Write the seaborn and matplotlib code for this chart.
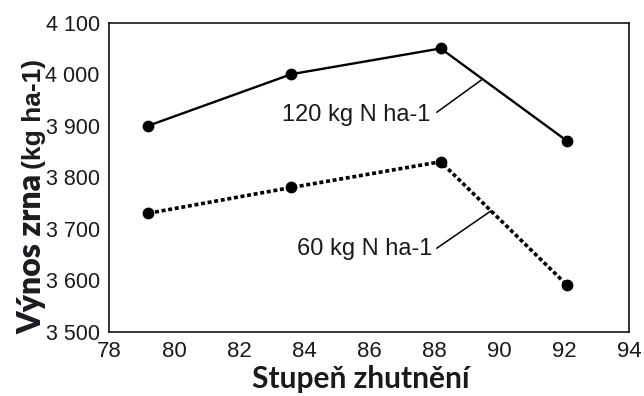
import matplotlib
matplotlib.use("Agg")
import matplotlib.pyplot as plt
from matplotlib.ticker import FuncFormatter, MultipleLocator
import seaborn as sns
import pandas as pd

# Degree of soil compaction and grain yield for two nitrogen rates
compaction = [79.2, 83.6, 88.2, 92.1]
yield_120 = [3900, 4000, 4050, 3870]
yield_60 = [3730, 3780, 3830, 3590]
label_120 = "120 kg N ha-1"
label_60 = "60 kg N ha-1"
x_ticks = [78, 80, 82, 84, 86, 88, 90, 92, 94]
y_ticks = [3500, 3600, 3700, 3800, 3900, 4000, 4100]

sns.set_theme(style="white")
plt.rcParams["font.family"] = ["Liberation Sans", "DejaVu Sans"]

df120 = pd.DataFrame({"x": compaction, "y": yield_120})
df60 = pd.DataFrame({"x": compaction, "y": yield_60})

fig = plt.figure(figsize=(6.44, 3.96), dpi=100)
ax = fig.add_axes([0.170, 0.1624, 0.8067, 0.7803])

sns.lineplot(data=df120, x="x", y="y", ax=ax, color="black", lw=1.7,
             marker="o", markersize=8.5, markeredgewidth=0)
sns.lineplot(data=df60, x="x", y="y", ax=ax, color="black", lw=2.6,
             linestyle=(0, (1.1, 0.75)), marker="o", markersize=8.5,
             markeredgewidth=0)

ax.set_xlim(78, 94)
ax.set_ylim(3500, 4100)
ax.set_xticks(x_ticks)
ax.set_yticks(y_ticks)
ax.xaxis.set_minor_locator(MultipleLocator(1))
ax.yaxis.set_minor_locator(MultipleLocator(50))
ax.yaxis.set_major_formatter(FuncFormatter(lambda v, p: f"{int(v):,}".replace(",", " ")))
ax.tick_params(which="both", direction="in", colors="black", labelcolor="#1a1a1a")
ax.tick_params(which="major", length=5, width=1, labelsize=16)
ax.tick_params(axis="y", which="major", pad=7, labelsize=15.5)
ax.tick_params(axis="x", which="major", pad=7)
ax.tick_params(which="minor", length=3.5, width=1)
ax.tick_params(top=False, right=False, which="both")
for s in ax.spines.values():
    s.set_color("black")
    s.set_linewidth(1.1)
ax.set_xlabel("")
ax.set_ylabel("")

# Line labels with leader lines to the curves
def on_line(xs, ys, xv):
    for i in range(len(xs) - 1):
        if xs[i] <= xv <= xs[i + 1]:
            t = (xv - xs[i]) / (xs[i + 1] - xs[i])
            return ys[i] + t * (ys[i + 1] - ys[i])
    return ys[-1]

ax.text(87.88, 3921, label_120, fontsize=17, ha="right", va="center", color="#1a1a1a")
ax.plot([88.08, 89.49], [3926, on_line(compaction, yield_120, 89.49)], color="black", lw=1.1)
ax.text(87.95, 3660, label_60, fontsize=17, ha="right", va="center", color="#1a1a1a")
ax.plot([88.08, 89.75], [3662, on_line(compaction, yield_60, 89.75)], color="black", lw=1.1)

# Axis titles
fig.text(0.5605, 0.02, "Stupeň zhutnění", fontsize=21.5, fontweight="bold",
         family=["Lato", "DejaVu Sans"], ha="center", va="baseline", color="#1a1a1a")
t1 = fig.text(41 / 644, (396 - 334) / 396, "Výnos zrna", fontsize=23, fontweight="heavy",
              family=["Lato", "DejaVu Sans"], rotation=90, rotation_mode="anchor",
              ha="left", va="baseline", color="#1b1b22")
fig.canvas.draw()
bb = t1.get_window_extent()
fig.text(41 / 644, (bb.y1 + 5) / 396, "(kg ha-1)", fontsize=19, fontweight="bold",
         family=["Liberation Sans", "DejaVu Sans"], rotation=90, rotation_mode="anchor",
         ha="left", va="baseline", color="#1b1b22")

fig.savefig("out.png", dpi=100)
